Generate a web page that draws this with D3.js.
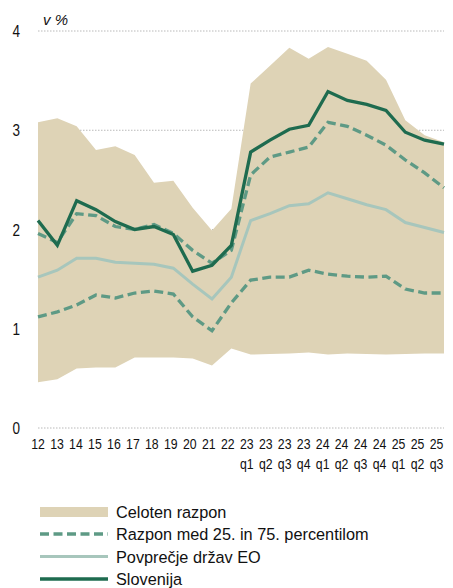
<!DOCTYPE html>
<html>
<head>
<meta charset="utf-8">
<script src="https://cdn.jsdelivr.net/npm/d3@7"></script>
<style>
  html, body { margin: 0; padding: 0; background: #fff; }
  svg { display: block; }
</style>
</head>
<body>
<svg id="chart" width="453" height="588"></svg>
<script>
const categories = ["12","13","14","15","16","17","18","19","20","21","22",
  "23 q1","23 q2","23 q3","23 q4","24 q1","24 q2","24 q3","24 q4","25 q1","25 q2","25 q3"];
const yearLabels = ["12","13","14","15","16","17","18","19","20","21","22",
  "23","23","23","23","24","24","24","24","25","25","25"];
const quarterLabels = ["","","","","","","","","","","",
  "q1","q2","q3","q4","q1","q2","q3","q4","q1","q2","q3"];
const rangeMax = [3.08,3.12,3.04,2.80,2.84,2.75,2.47,2.49,2.22,1.99,2.21,3.47,3.65,3.83,3.72,3.84,3.77,3.70,3.51,3.10,2.95,2.88];
const rangeMin = [0.46,0.49,0.60,0.61,0.61,0.71,0.71,0.71,0.70,0.63,0.80,0.74,0.745,0.75,0.76,0.74,0.75,0.745,0.74,0.745,0.75,0.75];
const p75 = [1.96,1.87,2.16,2.14,2.03,2.00,2.05,1.96,1.79,1.66,1.79,2.55,2.73,2.78,2.83,3.08,3.04,2.95,2.85,2.70,2.57,2.42];
const p25 = [1.12,1.17,1.24,1.34,1.31,1.36,1.38,1.35,1.12,0.98,1.26,1.49,1.52,1.52,1.59,1.55,1.53,1.52,1.53,1.40,1.36,1.36];
const euMean = [1.52,1.59,1.71,1.71,1.67,1.66,1.65,1.61,1.45,1.30,1.52,2.09,2.16,2.24,2.26,2.37,2.31,2.25,2.20,2.07,2.02,1.97];
const slovenia = [2.09,1.84,2.29,2.20,2.08,2.00,2.03,1.95,1.58,1.64,1.84,2.78,2.90,3.01,3.05,3.39,3.30,3.26,3.20,2.98,2.90,2.86];
const yTicks = [0,1,2,3,4];
const legendLabels = ["Celoten razpon","Razpon med 25. in 75. percentilom","Povprečje držav EO","Slovenija"];

(function () {
const colors = { range: "#ded3b6", pct: "#5e9a85", mean: "#a7c6bc", slo: "#1e6b4f", grid: "#b9b9b9" };
const svg = d3.select("#chart");
const pLeft = 38, pRight = 444, pTop = 31, pBottom = 428;

const x = d3.scalePoint().domain(categories).range([pLeft, pRight]);
const xLab = d3.scalePoint().domain(categories).range([38, 436.5]);
const y = d3.scaleLinear().domain([0, 4]).range([pBottom, pTop]);

const sans = "'Liberation Sans',Arial,sans-serif";
const squeeze = 0.82;

// gridlines
svg.append("g").selectAll("line").data(yTicks).join("line")
  .attr("x1", pLeft).attr("x2", pRight)
  .attr("y1", d => y(d)).attr("y2", d => y(d))
  .attr("stroke", colors.grid).attr("stroke-width", 1).attr("stroke-dasharray", "1.5,1.5");

// range area
const area = d3.area().x((d, i) => x(categories[i])).y0((d, i) => y(rangeMin[i])).y1(d => y(d));
svg.append("path").datum(rangeMax).attr("d", area).attr("fill", colors.range);

const line = d3.line().x((d, i) => x(categories[i])).y(d => y(d));
svg.append("path").datum(euMean).attr("d", line).attr("fill", "none")
  .attr("stroke", colors.mean).attr("stroke-width", 3);
[p75, p25].forEach(s => svg.append("path").datum(s).attr("d", line).attr("fill", "none")
  .attr("stroke", colors.pct).attr("stroke-width", 3.3).attr("stroke-dasharray", "9,4.5"));
svg.append("path").datum(slovenia).attr("d", line).attr("fill", "none")
  .attr("stroke", colors.slo).attr("stroke-width", 3.3).attr("stroke-linejoin", "miter");

// y tick labels
svg.append("g").selectAll("text").data(yTicks).join("text")
  .attr("transform", d => `translate(20,${y(d) + 6}) scale(${squeeze},1)`)
  .attr("text-anchor", "end")
  .attr("font-family", sans).attr("font-size", 16.5).attr("fill", "#111")
  .text(d => d);

svg.append("text").attr("x", 43).attr("y", 25)
  .attr("font-family", sans).attr("font-style", "italic").attr("font-size", 15).attr("fill", "#111")
  .text("v %");

// x labels
const xg = svg.append("g");
xg.selectAll("text.yr").data(categories).join("text").attr("class", "yr")
  .attr("transform", d => `translate(${xLab(d)},449) scale(${squeeze},1)`)
  .attr("text-anchor", "middle")
  .attr("font-family", sans).attr("font-size", 15).attr("fill", "#111")
  .text((d, i) => yearLabels[i]);
xg.selectAll("text.q").data(categories).join("text").attr("class", "q")
  .attr("transform", d => `translate(${xLab(d)},469) scale(${squeeze},1)`)
  .attr("text-anchor", "middle")
  .attr("font-family", sans).attr("font-size", 15).attr("fill", "#111")
  .text((d, i) => quarterLabels[i]);

// legend
const lg = svg.append("g");
const rowY = [512, 534, 556.5, 579];
lg.append("rect").attr("x", 40).attr("y", 507).attr("width", 68).attr("height", 10).attr("fill", colors.range);
lg.append("line").attr("x1", 40).attr("x2", 108).attr("y1", rowY[1]).attr("y2", rowY[1])
  .attr("stroke", colors.pct).attr("stroke-width", 3.3).attr("stroke-dasharray", "9,4.5");
lg.append("line").attr("x1", 40).attr("x2", 108).attr("y1", rowY[2]).attr("y2", rowY[2])
  .attr("stroke", colors.mean).attr("stroke-width", 3);
lg.append("line").attr("x1", 40).attr("x2", 108).attr("y1", rowY[3]).attr("y2", rowY[3])
  .attr("stroke", colors.slo).attr("stroke-width", 3.3);
lg.selectAll("text").data(legendLabels).join("text")
  .attr("x", 116).attr("y", (d, i) => [518, 540, 563, 585][i])
  .attr("font-family", sans).attr("font-size", 16.3).attr("fill", "#111")
  .text(d => d);
})();
</script>
</body>
</html>
